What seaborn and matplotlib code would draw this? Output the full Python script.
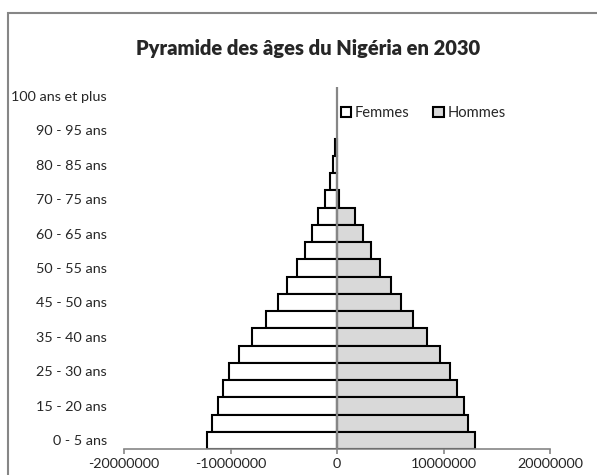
import matplotlib
matplotlib.use('Agg')
import matplotlib.pyplot as plt
import seaborn as sns
import pandas as pd
import numpy as np
from matplotlib.patches import Rectangle, Patch

# age groups as ordered in the source sheet (text sort, 100+ last)
age_groups = ['0 - 5 ans', '10 - 15 ans', '15 - 20 ans', '20 - 25 ans', '25 - 30 ans',
              '30 - 35 ans', '35 - 40 ans', '40 - 45 ans', '45 - 50 ans', '5 - 10 ans',
              '50 - 55 ans', '55 - 60 ans', '60 - 65 ans', '65 - 70 ans', '70 - 75 ans',
              '75 - 80 ans', '80 - 85 ans', '85 - 90 ans', '90 - 95 ans', '95 - 100 ans',
              '100 ans et plus']
tick_labels = age_groups[::2]

femmes = [12200000, 11700000, 11200000, 10700000, 10100000, 9160000, 7940000,
          6620000, 5520000, 4650000, 3760000, 3050000, 2390000, 1790000, 1170000,
          660000, 350000, 160000, np.nan, np.nan, np.nan]
hommes = [13000000, 12300000, 11900000, 11300000, 10570000, 9650000, 8430000,
          7150000, 6050000, 5040000, 4060000, 3200000, 2450000, 1720000, 150000,
          np.nan, np.nan, np.nan, np.nan, np.nan, np.nan]

x_ticks = [-20000000, -10000000, 0, 10000000, 20000000]

df = pd.DataFrame({
    'age': age_groups * 2,
    'pop': [-v for v in femmes] + hommes,
    'sexe': ['Femmes'] * len(femmes) + ['Hommes'] * len(hommes),
})
df = df.dropna()

sns.set_style('white')
plt.rcParams['font.family'] = ['Lato', 'DejaVu Sans']

grey = '#868686'
W, H = 597, 475
fig = plt.figure(figsize=(W / 100, H / 100), dpi=100)
ax = fig.add_axes([124 / W, 1 - 449 / H, 426 / W, 362 / H])

sns.barplot(data=df, x='pop', y='age', hue='sexe', order=age_groups[::-1],
            hue_order=['Femmes', 'Hommes'],
            palette={'Femmes': 'white', 'Hommes': '#d9d9d9'},
            dodge=False, width=1.0, edgecolor='black', linewidth=1.5,
            orient='h', errorbar=None, legend=False, ax=ax)

ax.axvline(0, color=grey, lw=1.6, zorder=5)
ax.set_xlim(-20000000, 20000000)
ax.set_xticks(x_ticks)
ax.set_xticklabels([str(v) for v in x_ticks])
ax.set_yticks(range(0, len(age_groups), 2))
ax.set_yticklabels(tick_labels[::-1])
ax.set_xlabel('')
ax.set_ylabel('')

for s in ['left', 'top', 'right']:
    ax.spines[s].set_visible(False)
ax.spines['bottom'].set_color(grey)
ax.spines['bottom'].set_linewidth(1.2)
ax.tick_params(axis='x', bottom=True, direction='out', length=3.5, width=1.2,
               color=grey, labelsize=10.4, pad=3)
ax.tick_params(axis='y', left=False, labelsize=10.4, pad=9)

fig.text(308 / W, 1 - 48 / H, 'Pyramide des âges du Nigéria en 2030',
         ha='center', va='center', fontsize=14.5, fontweight='heavy')

handles = [Patch(facecolor='white', edgecolor='black', lw=1.5),
           Patch(facecolor='#d9d9d9', edgecolor='black', lw=1.5)]
ax.legend(handles, ['Femmes', 'Hommes'], loc='center left',
          bbox_to_anchor=(341 / W, 1 - 113 / H), bbox_transform=fig.transFigure,
          ncol=2, frameon=False, handlelength=0.7, handleheight=0.7,
          handletextpad=0.25, columnspacing=1.6, borderpad=0, borderaxespad=0,
          fontsize=10.6)

fig.patches.append(Rectangle((8 / W, -0.02), 1.0, 1.02 - 13 / H,
                             transform=fig.transFigure, fill=False,
                             edgecolor=grey, lw=1.5))

fig.savefig('out.png', dpi=100, facecolor='white')
